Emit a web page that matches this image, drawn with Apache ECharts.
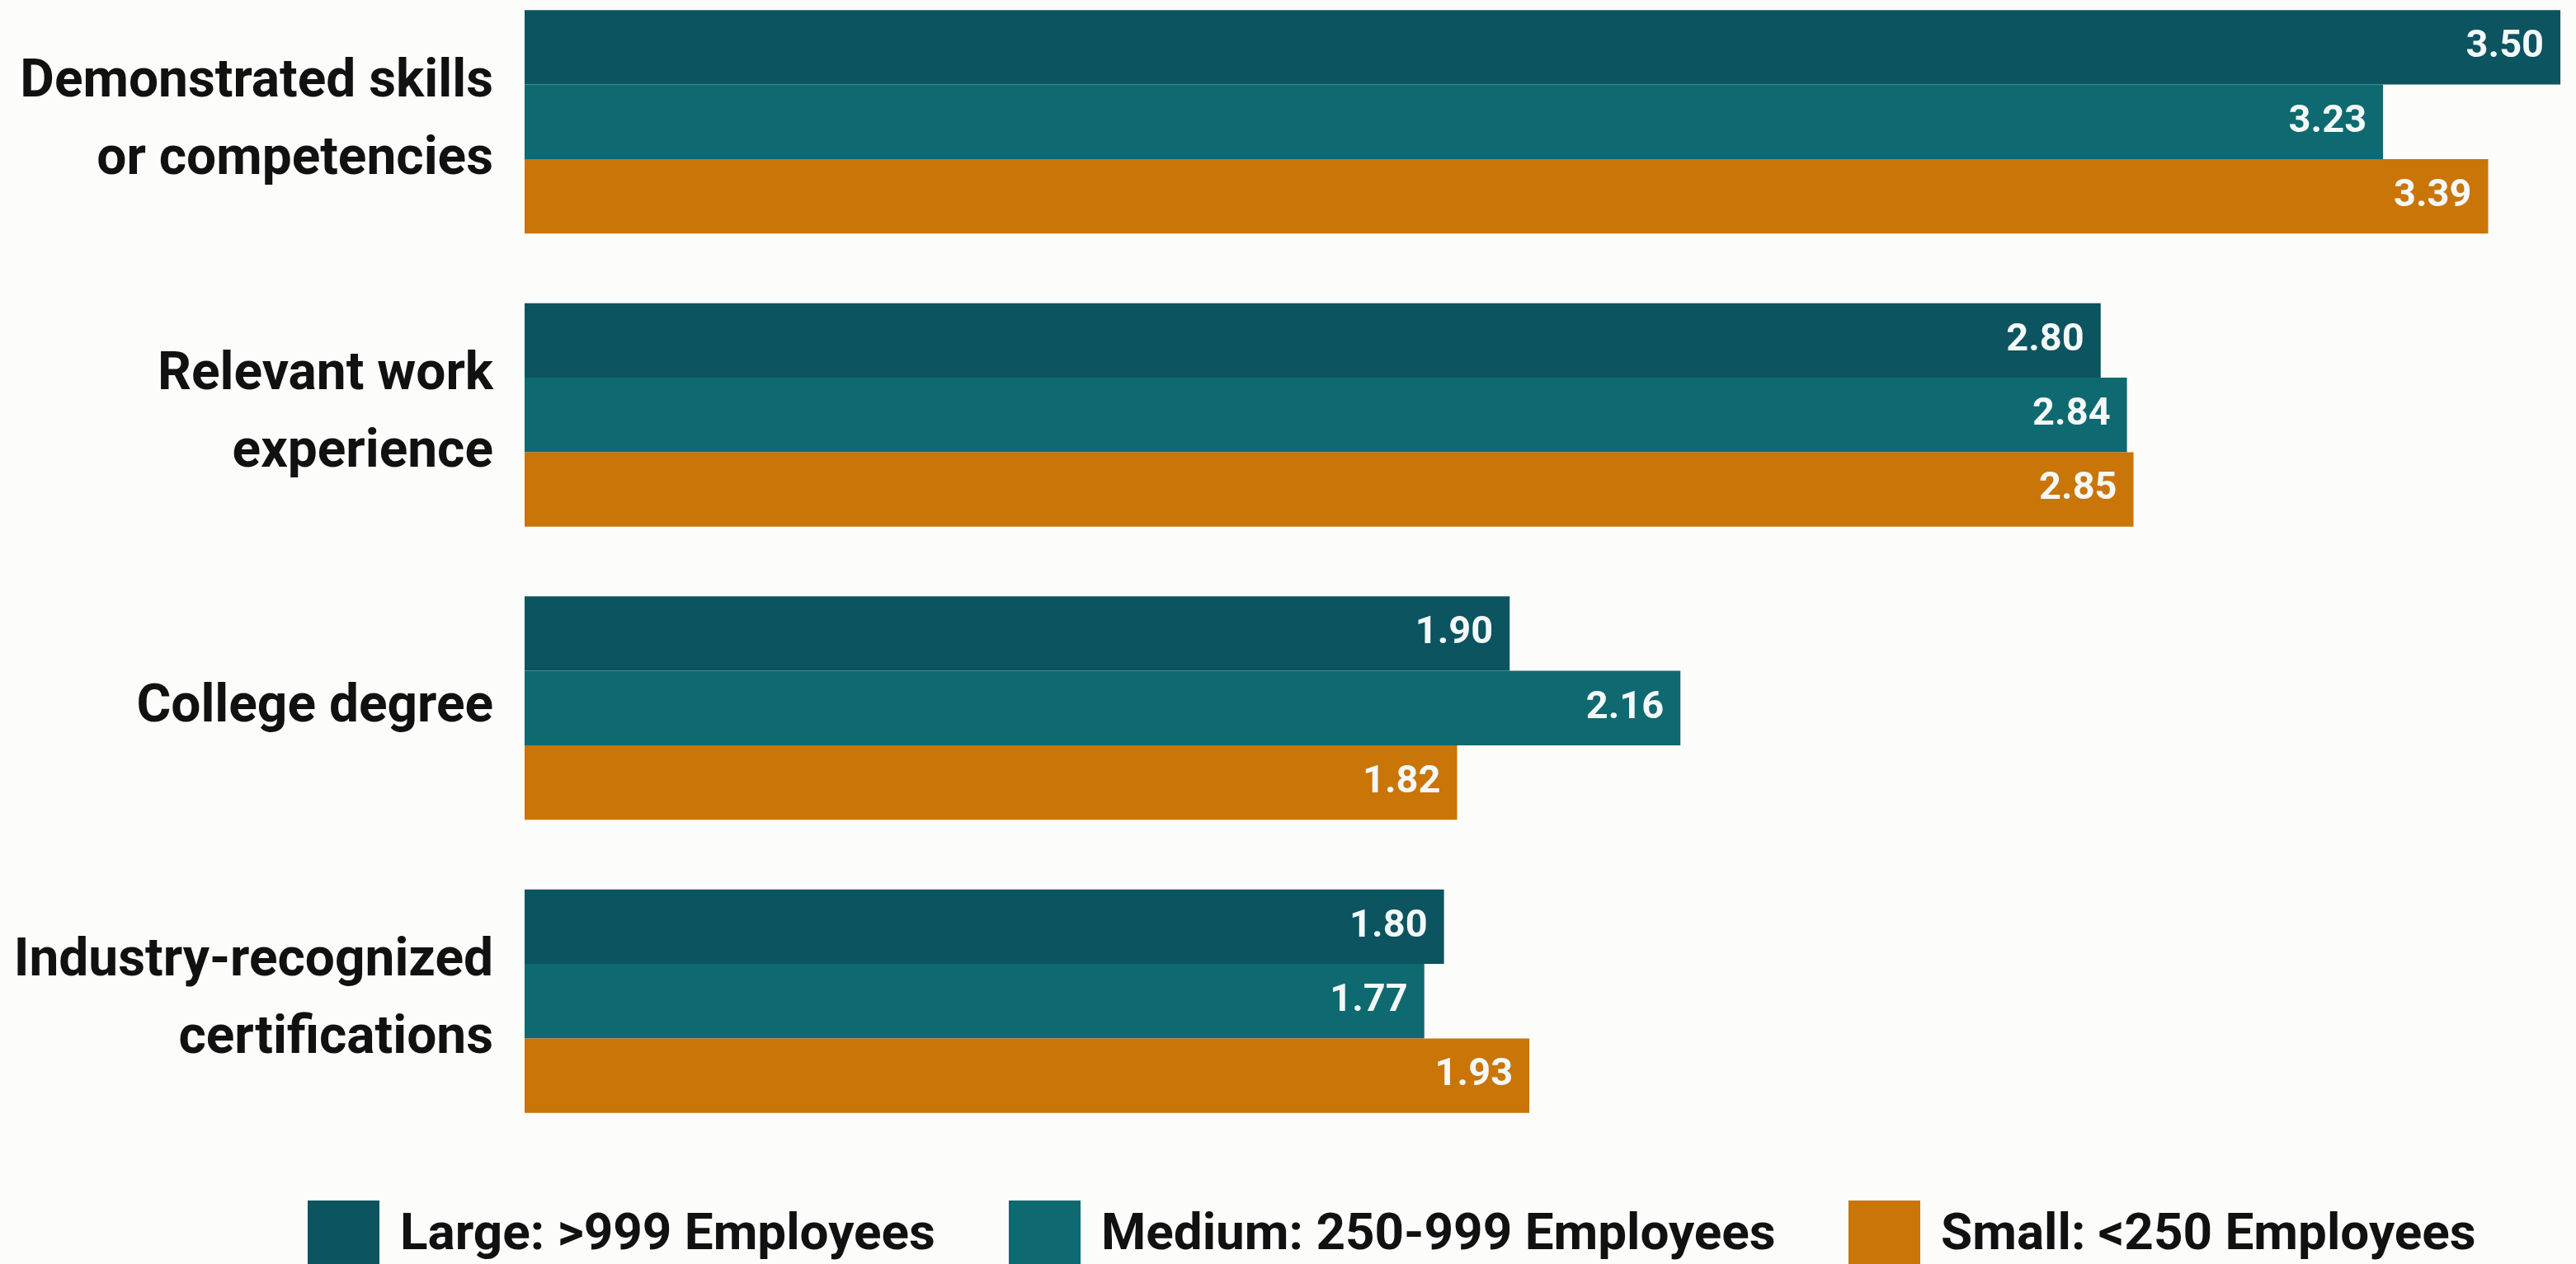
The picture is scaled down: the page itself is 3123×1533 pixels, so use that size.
<!DOCTYPE html>
<html>
<head>
<meta charset="utf-8">
<script src="https://cdn.jsdelivr.net/npm/echarts@6/dist/echarts.min.js"></script>
<style>
  html, body { margin: 0; padding: 0; background: #fcfcfa; }
  #chart { width: 3123px; height: 1533px; }
</style>
</head>
<body>
<div id="chart"></div>
<script>
// Credentials employers weigh, by company size (mean rating)
const categories = [
  'Demonstrated skills\nor competencies',
  'Relevant work\nexperience',
  'College degree',
  'Industry-recognized\ncertifications'
];
const seriesNames = ['Large: >999 Employees', 'Medium: 250-999 Employees', 'Small: <250 Employees'];
const largeValues = [3.50, 2.80, 1.90, 1.80];
const mediumValues = [3.23, 2.84, 2.16, 1.77];
const smallValues = [3.39, 2.85, 1.82, 1.93];
const seriesColors = ['#0b5460', '#0e6a70', '#c97508'];

const FONT = 'Roboto, "Liberation Sans", sans-serif';

const chart = echarts.init(document.getElementById('chart'), null, { renderer: 'canvas' });

function barSeries(name, values, color) {
  return {
    name: name,
    type: 'bar',
    data: values,
    barGap: '0%',
    barCategoryGap: '23.8%',
    itemStyle: { color: color },
    label: {
      show: true,
      position: 'insideRight',
      distance: 20,
      color: '#f4f8f8',
      fontFamily: FONT,
      fontWeight: 'bold',
      fontSize: 47,
      formatter: p => p.value.toFixed(2)
    },
    emphasis: { disabled: true }
  };
}

// one legend block per series so each key sits at its own spot
const legendLefts = [368, 1218, 2236];
const legends = seriesNames.map((name, i) => ({
  left: legendLefts[i],
  top: 1451,
  itemWidth: 87,
  itemHeight: 86,
  icon: 'rect',
  data: [name],
  selectedMode: false,
  textStyle: {
    color: '#111111',
    fontFamily: FONT,
    fontWeight: 'bold',
    fontSize: 62,
    padding: [0, 0, 0, 20]
  }
}));

chart.setOption({
  backgroundColor: '#fcfcfa',
  animation: false,
  grid: { left: 636, top: -30, height: 1422, right: 3, containLabel: false, outerBoundsMode: 'none' },
  xAxis: {
    type: 'value',
    min: 0.4,
    max: 3.52,
    show: false,
    splitLine: { show: false }
  },
  yAxis: {
    type: 'category',
    data: categories,
    inverse: true,
    axisLine: { show: false },
    axisTick: { show: false },
    axisLabel: {
      margin: 38,
      color: '#111111',
      fontFamily: FONT,
      fontWeight: 'bold',
      fontSize: 64,
      lineHeight: 94,
      padding: [12, 0, 0, 0],
      align: 'right'
    }
  },
  legend: legends,
  series: [
    barSeries(seriesNames[0], largeValues, seriesColors[0]),
    barSeries(seriesNames[1], mediumValues, seriesColors[1]),
    barSeries(seriesNames[2], smallValues, seriesColors[2])
  ]
});
</script>
</body>
</html>
